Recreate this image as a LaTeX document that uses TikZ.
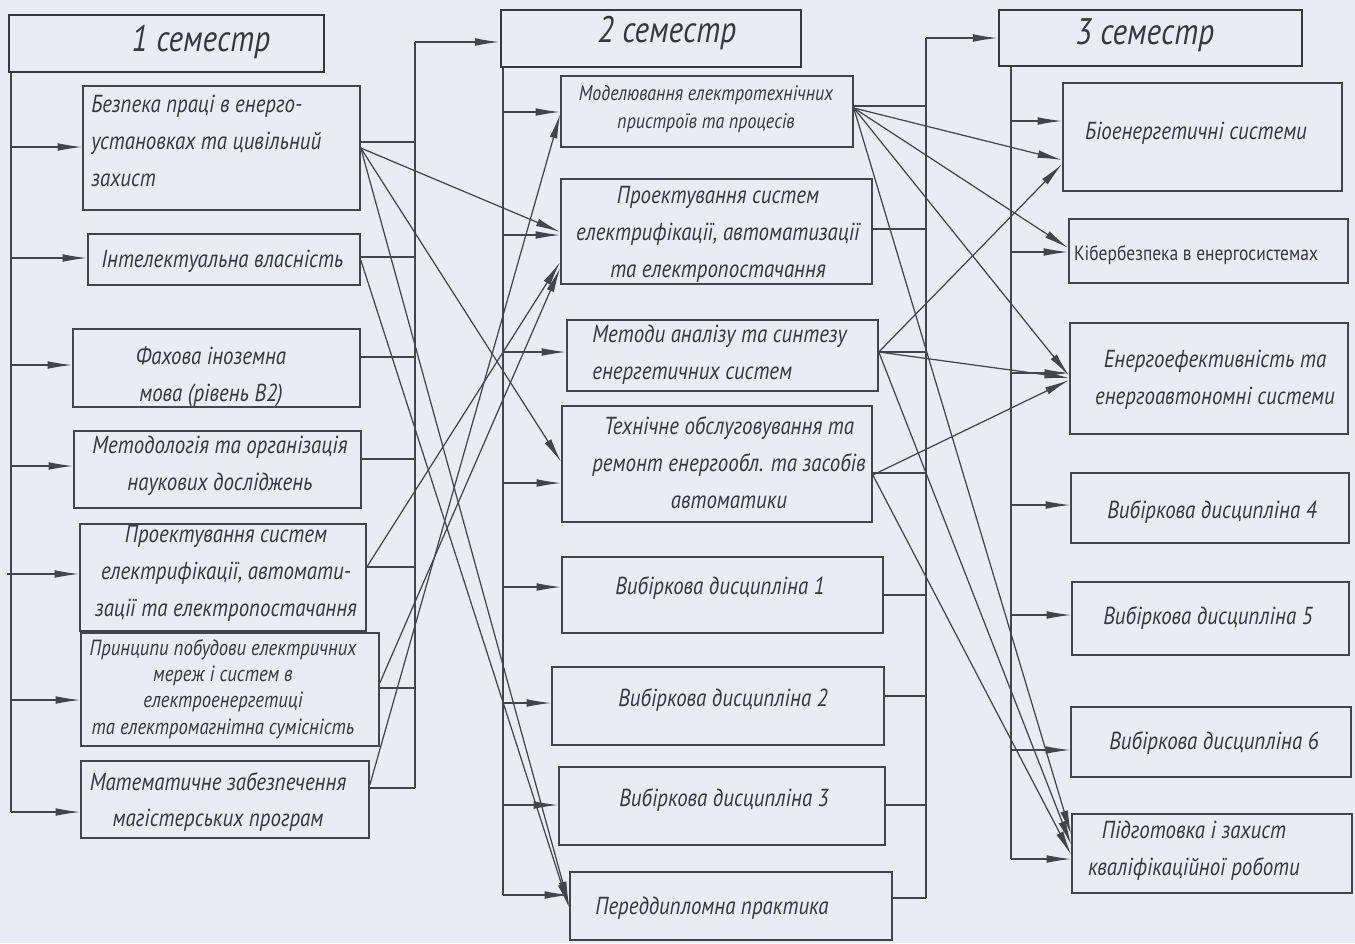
\documentclass[tikz,border=0pt]{standalone}
\usepackage{fontspec}
\setmainfont{PT Sans}[FakeStretch=0.85]
\usetikzlibrary{arrows.meta,fit,calc}
\definecolor{bg}{RGB}{235,235,243}
\definecolor{ink}{RGB}{68,68,76}
\definecolor{txt}{RGB}{55,55,62}
\tikzset{
  boxst/.style={draw=ink, line width=0.9pt, inner sep=0pt},
  headst/.style={draw=ink!80!black, line width=1.6pt, inner sep=0pt},
  lbl/.style={text=txt, font=\fontsize{14}{21}\selectfont\itshape, inner sep=0pt, align=center},
  tightb/.style={font=\fontsize{12.5}{15}\selectfont\itshape},
  tightc/.style={font=\fontsize{12}{16}\selectfont\itshape},
  hlbl/.style={text=txt, font=\fontsize{21}{24}\selectfont\itshape, inner sep=0pt},
  wire/.style={draw=ink, line width=0.7pt},
  arr/.style={wire, -{Latex[length=14pt,width=4.4pt]}},
}
\newcommand\mkbox[6][boxst]{\path (#3,#4) coordinate (#2nw) (#5,#6) coordinate (#2se); \node[#1, fit=(#2nw)(#2se)] (#2) {};}
\begin{document}
\begin{tikzpicture}[x=0.2mm,y=-0.2mm]
\fill[bg] (0,0) rectangle (1355,943);
\useasboundingbox (0,0) rectangle (1355,943);

% ---------- headers
\mkbox[headst]{h1}{9}{15}{324}{72}
\mkbox[headst]{h2}{501}{10}{801}{67}
\mkbox[headst]{h3}{999}{10}{1302}{66}
\node[hlbl] (h1t) at (201,42) {1 семестр};
\node[hlbl] (h2t) at (667,33) {2 семестр};
\node[hlbl] (h3t) at (1145,35) {3 семестр};

% ---------- column 1
\mkbox{b1}{83}{86}{360}{210}
\mkbox{b2}{88}{234}{360}{285}
\mkbox{b3}{73}{329}{360}{407}
\mkbox{b4}{74}{431}{361}{508}
\mkbox{b5}{80}{524}{366}{631}
\mkbox{b6}{81}{633}{379}{746}
\mkbox{b7}{81}{761}{369}{838}
\node[lbl, anchor=west, align=left] (b1t) at (91,141) {Безпека праці в енерго-\\установках та цивільний\\захист};
\node[lbl, anchor=west] (b2t) at (101,261) {Інтелектуальна власність};
\node[lbl] (b3t) at (211,377) {Фахова іноземна\\мова (рівень В2)};
\node[lbl] (b4t) at (220,466) {Методологія та організація\\наукових досліджень};
\node[lbl] (b5t) at (226,573) {Проектування систем\\електрифікації, автомати-\\зації та електропостачання};
\node[lbl, tightb] (b6t) at (223,689) {Принципи побудови електричних\\мереж і систем в\\електроенергетиці\\та електромагнітна сумісність};
\node[lbl] (b7t) at (218,802) {Математичне забезпечення\\магістерських програм};

% ---------- column 2
\mkbox{c1}{561}{76}{853}{147}
\mkbox{c2}{561}{179}{872}{284}
\mkbox{c3}{567}{320}{878}{391}
\mkbox{c4}{562}{406}{872}{522}
\mkbox{c5}{562}{557}{883}{633}
\mkbox{c6}{552}{667}{884}{745}
\mkbox{c7}{559}{767}{885}{845}
\mkbox{c8}{570}{872}{892}{940}
\node[lbl, tightc] (c1t) at (706,109) {Моделювання електротехнічних\\пристроїв та процесів};
\node[lbl] (c2t) at (718,234) {Проектування систем\\електрифікації, автоматизації\\та електропостачання};
\node[lbl, anchor=west, align=left] (c3t) at (592,355) {Методи аналізу та синтезу\\енергетичних систем};
\node[lbl] (c4t) at (729,463) {Технічне обслуговування та\\ремонт енергообл. та засобів\\автоматики};
\node[lbl] (c5t) at (720,588) {Вибіркова дисципліна 1};
\node[lbl] (c6t) at (723,700) {Вибіркова дисципліна 2};
\node[lbl] (c7t) at (724,800) {Вибіркова дисципліна 3};
\node[lbl] (c8t) at (712,908) {Переддипломна практика};

% ---------- column 3
\mkbox{d1}{1063}{83}{1342}{191}
\mkbox{d2}{1069}{219}{1348}{283}
\mkbox{d3}{1070}{323}{1348}{434}
\mkbox{d4}{1071}{473}{1349}{543}
\mkbox{d5}{1072}{582}{1349}{655}
\mkbox{d6}{1071}{707}{1351}{777}
\mkbox{d7}{1072}{814}{1352}{893}
\node[lbl] (d1t) at (1196,133) {Біоенергетичні системи};
\node[lbl, font=\fontsize{11.7}{14}\selectfont] (d2t) at (1196,255) {Кібербезпека в енергосистемах};
\node[lbl] (d3t) at (1215,380) {Енергоефективність та\\енергоавтономні системи};
\node[lbl] (d4t) at (1212,512) {Вибіркова дисципліна 4};
\node[lbl] (d5t) at (1208,618) {Вибіркова дисципліна 5};
\node[lbl] (d6t) at (1214,743) {Вибіркова дисципліна 6};
\node[lbl] (d7t) at (1194,851) {Підготовка і захист\\кваліфікаційної роботи};

% ---------- column 1 buses
\coordinate (L1a) at (11,72);
\coordinate (L1b) at (11,812);
\coordinate (L1x) at (7,574);
\draw[wire] (h1.south -| L1a) -- (L1b);
\draw[arr] (L1a |- 0,147) -- (b1.west |- 0,147);
\draw[arr] (L1a |- 0,258) -- (b2.west |- 0,258);
\draw[arr] (L1a |- 0,365) -- (b3.west |- 0,365);
\draw[arr] (L1a |- 0,466) -- (b4.west |- 0,466);
\draw[arr] (L1x) -- (b5.west |- L1x);
\draw[arr] (L1a |- 0,700) -- (b6.west |- 0,700);
\draw[arr] (L1b) -- (b7.west |- L1b);

\coordinate (R1a) at (415,42);
\coordinate (R1b) at (415,788);
\draw[wire] (R1a) -- (R1b);
\draw[arr] (R1a) -- (h2.west |- R1a);
\draw[wire] (b1.east |- 0,142) -- (R1a |- 0,142);
\draw[wire] (b2.east |- 0,257) -- (R1a |- 0,257);
\draw[wire] (b3.east |- 0,357) -- (R1a |- 0,357);
\draw[wire] (b4.east |- 0,459) -- (R1a |- 0,459);
\draw[wire] (b5.east |- 0,567) -- (R1a |- 0,567);
\draw[wire] (b6.east |- 0,688) -- (R1a |- 0,688);
\draw[wire] (b7.east |- R1b) -- (R1b);

% ---------- column 2 buses
\coordinate (L2a) at (503,67);
\coordinate (L2b) at (503,895);
\draw[wire] (h2.south -| L2a) -- (L2b);
\draw[arr] (L2a |- 0,112) -- (c1.west |- 0,112);
\draw[arr] (L2a |- 0,235) -- (c2.west |- 0,235);
\draw[arr] (L2a |- 0,352) -- (c3.west |- 0,352);
\draw[arr] (L2a |- 0,483) -- (c4.west |- 0,483);
\draw[arr] (L2a |- 0,587) -- (c5.west |- 0,587);
\draw[arr] (L2a |- 0,703) -- (c6.west |- 0,703);
\draw[arr] (L2a |- 0,805) -- (c7.west |- 0,805);
\draw[arr] (L2b) -- (c8.west |- L2b);

\coordinate (R2a) at (926,38);
\coordinate (R2b) at (926,898);
\draw[wire] (R2a) -- (R2b);
\draw[arr] (R2a) -- (h3.west |- R2a);
\draw[wire] (c1.east |- 0,106) -- (R2a |- 0,106);
\draw[wire] (c2.east |- 0,229) -- (R2a |- 0,229);
\draw[wire] (c3.east |- 0,352) -- (R2a |- 0,352);
\draw[wire] (c4.east |- 0,473) -- (R2a |- 0,473);
\draw[wire] (c5.east |- 0,595) -- (R2a |- 0,595);
\draw[wire] (c6.east |- 0,696) -- (R2a |- 0,696);
\draw[wire] (c7.east |- 0,805) -- (R2a |- 0,805);
\draw[wire] (c8.east |- R2b) -- (R2b);

% ---------- column 3 bus
\coordinate (L3a) at (1011,66);
\coordinate (L3b) at (1011,859);
\draw[wire] (h3.south -| L3a) -- (L3b);
\draw[arr] (L3a |- 0,121) -- (d1.west |- 0,121);
\draw[arr] (L3a |- 0,252) -- (d2.west |- 0,252);
\draw[arr] (L3a |- 0,373) -- (d3.west |- 0,373);
\draw[arr] (L3a |- 0,505) -- (d4.west |- 0,505);
\draw[arr] (L3a |- 0,615) -- (d5.west |- 0,615);
\draw[arr] (L3a |- 0,750) -- (d6.west |- 0,750);
\draw[arr] (L3b) -- (d7.west |- L3b);

% ---------- cross links semester 1 -> 2
\draw[arr] (b1.east |- 0,148) -- (c2.west |- 0,232);
\draw[arr] (b1.east |- 0,148) -- (c4.west |- 0,462);
\draw[arr] (b1.east |- 0,148) -- (c8.west |- 0,906);
\draw[arr] (b2.east |- 0,260) -- (c8.west |- 0,908);
\draw[arr] (b5.east |- 0,567) -- (c2.west |- 0,262);
\draw[arr] (b6.east |- 0,683) -- (c2.west |- 0,268);
\draw[arr] (b7.east |- 0,785) -- (c1.west |- 0,114);

% ---------- cross links semester 2 -> 3
\draw[arr] (c1.east |- 0,108) -- (d1.west |- 0,160);
\draw[arr] (c1.east |- 0,108) -- (d2.west |- 0,248);
\draw[arr] (c1.east |- 0,108) -- (d3.west |- 0,376);
\draw[arr] (c1.east |- 0,108) -- (d7.west |- 0,835);
\draw[arr] (c3.east |- 0,352) -- (d1.west |- 0,164);
\draw[arr] (c3.east |- 0,352) -- (d3.west |- 0,378);
\draw[arr] (c3.east |- 0,352) -- (d7.west |- 0,845);
\draw[arr] (c4.east |- 0,475) -- (d3.west |- 0,380);
\draw[arr] (c4.east |- 0,475) -- (d7.west |- 0,855);
\end{tikzpicture}
\end{document}
